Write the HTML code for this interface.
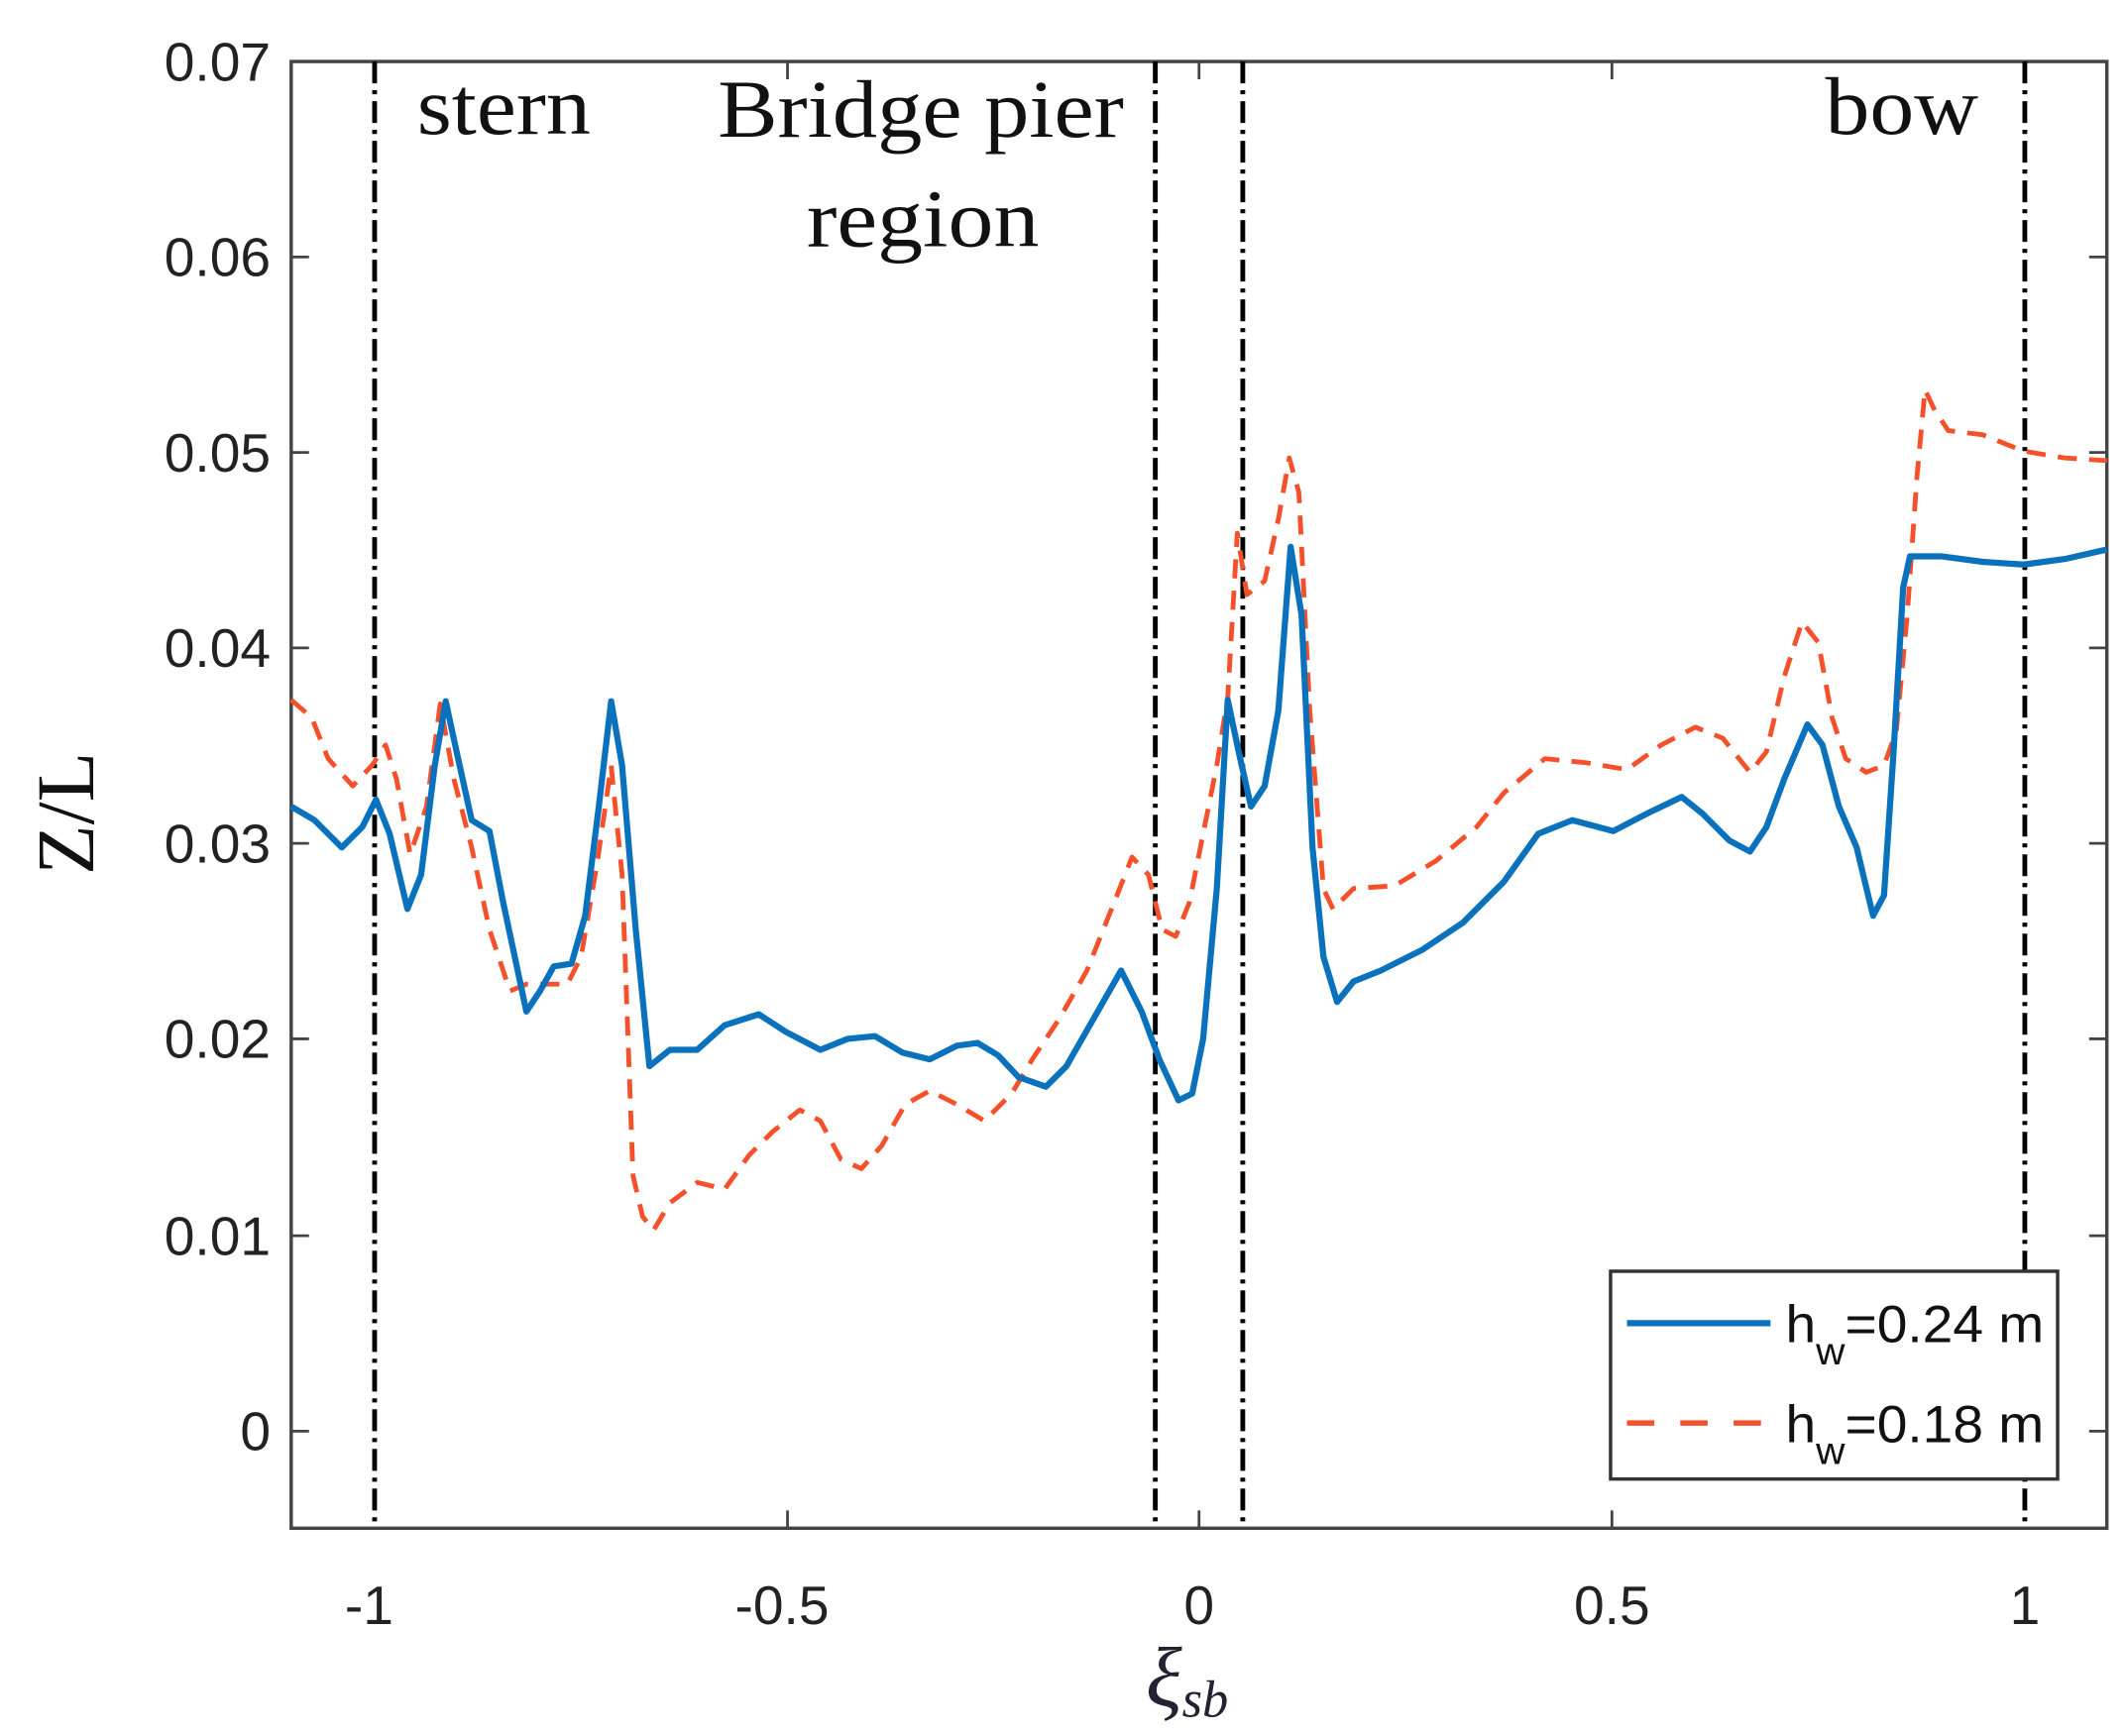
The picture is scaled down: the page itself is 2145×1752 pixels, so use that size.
<!DOCTYPE html>
<html><head><meta charset="utf-8"><style>
html,body{margin:0;padding:0;background:#fff;}
svg{display:block;}
</style></head><body>
<svg width="2145" height="1752" viewBox="0 0 1555 1270" preserveAspectRatio="none" xmlns="http://www.w3.org/2000/svg">
<rect x="0" y="0" width="1555" height="1270" fill="#fff"/>
<rect x="213" y="45" width="1328" height="1073" fill="none" stroke="#444" stroke-width="2.5"/>
<g stroke="#444" stroke-width="2">
<line x1="213" y1="188" x2="226" y2="188"/><line x1="1541" y1="188" x2="1528" y2="188"/>
<line x1="213" y1="331" x2="226" y2="331"/><line x1="1541" y1="331" x2="1528" y2="331"/>
<line x1="213" y1="474" x2="226" y2="474"/><line x1="1541" y1="474" x2="1528" y2="474"/>
<line x1="213" y1="617" x2="226" y2="617"/><line x1="1541" y1="617" x2="1528" y2="617"/>
<line x1="213" y1="760" x2="226" y2="760"/><line x1="1541" y1="760" x2="1528" y2="760"/>
<line x1="213" y1="904" x2="226" y2="904"/><line x1="1541" y1="904" x2="1528" y2="904"/>
<line x1="213" y1="1047" x2="226" y2="1047"/><line x1="1541" y1="1047" x2="1528" y2="1047"/>
<line x1="576" y1="1118" x2="576" y2="1105"/><line x1="576" y1="45" x2="576" y2="58"/>
<line x1="877" y1="1118" x2="877" y2="1105"/><line x1="877" y1="45" x2="877" y2="58"/>
<line x1="1179" y1="1118" x2="1179" y2="1105"/><line x1="1179" y1="45" x2="1179" y2="58"/>
</g>
<g font-family="Liberation Sans, sans-serif" font-size="40" fill="#222" text-anchor="end">
<text x="198" y="59">0.07</text><text x="198" y="202">0.06</text><text x="198" y="345">0.05</text>
<text x="198" y="488">0.04</text><text x="198" y="631">0.03</text><text x="198" y="774">0.02</text>
<text x="198" y="918">0.01</text><text x="198" y="1061">0</text>
</g>
<g font-family="Liberation Sans, sans-serif" font-size="40" fill="#222" text-anchor="middle">
<text x="270" y="1188">-1</text><text x="572" y="1188">-0.5</text><text x="877" y="1188">0</text>
<text x="1179" y="1188">0.5</text><text x="1481" y="1188">1</text>
</g>
<text transform="translate(68,595) rotate(-90)" font-family="Liberation Serif, serif" font-size="60" text-anchor="middle" fill="#111">Z/L</text>
<text x="838" y="1248" font-family="Liberation Serif, serif" font-style="italic" font-size="62" fill="#223">ξ<tspan font-size="38" dy="8">sb</tspan></text>
<g stroke="#000" stroke-width="3.5" stroke-dasharray="16,5,3,5">
<line x1="274" y1="45" x2="274" y2="1118"/>
<line x1="845" y1="45" x2="845" y2="1118"/>
<line x1="909" y1="45" x2="909" y2="1118"/>
<line x1="1481" y1="45" x2="1481" y2="1118"/>
</g>
<g font-family="Liberation Serif, serif" font-size="60" fill="#111">
<text x="305" y="98" textLength="127" lengthAdjust="spacingAndGlyphs">stern</text>
<text x="525" y="100" textLength="297" lengthAdjust="spacingAndGlyphs">Bridge pier</text>
<text x="590" y="180" textLength="170" lengthAdjust="spacingAndGlyphs">region</text>
<text x="1335" y="98" textLength="112" lengthAdjust="spacingAndGlyphs">bow</text>
</g>
<polyline fill="none" stroke="#F5502A" stroke-width="3.5" stroke-dasharray="14,9" stroke-linejoin="round" points="213,512 228,525 240,555 258,575 272,560 282,545 290,570 300,625 312,590 322,515 332,570 345,620 358,680 373,725 385,720 398,720 415,720 425,700 437,630 447,560 455,640 463,860 470,890 478,900 490,880 510,865 530,870 548,845 565,828 585,812 600,820 615,848 630,855 645,838 662,808 680,798 700,808 720,820 740,800 755,775 775,745 795,710 815,660 828,627 840,640 850,680 860,685 870,660 880,610 890,560 898,510 905,390 912,435 925,425 935,380 943,335 950,360 958,520 968,650 975,665 990,650 1020,648 1050,630 1080,605 1100,580 1130,555 1160,558 1190,563 1215,545 1240,532 1260,540 1280,565 1292,550 1305,495 1318,455 1330,470 1340,525 1350,555 1365,565 1378,560 1387,535 1395,450 1402,350 1408,285 1415,300 1425,315 1450,318 1480,330 1510,335 1541,337"/>
<polyline fill="none" stroke="#0A72BD" stroke-width="4.5" stroke-linejoin="round" points="213,590 230,600 250,620 265,605 275,585 285,610 298,665 308,640 318,560 326,513 334,550 345,600 358,608 368,660 385,740 395,725 405,707 418,705 428,670 438,590 447,513 455,560 465,680 475,780 490,768 510,768 530,750 555,742 575,755 600,768 620,760 640,758 660,770 680,775 700,765 715,763 730,772 745,788 765,795 780,780 800,745 820,710 835,740 848,775 862,805 872,800 880,760 890,650 898,512 906,550 915,590 925,575 935,520 944,400 952,450 960,620 968,700 978,733 990,718 1010,710 1040,695 1070,675 1100,645 1125,610 1150,600 1180,608 1205,595 1230,583 1245,595 1265,615 1280,623 1292,605 1305,570 1322,530 1333,545 1345,590 1358,620 1370,670 1378,655 1385,550 1392,430 1397,407 1420,407 1450,411 1480,413 1510,409 1541,402"/>
<rect x="1178" y="930" width="327" height="152" fill="#fff" stroke="#333" stroke-width="2.5"/>
<line x1="1190" y1="968" x2="1295" y2="968" stroke="#0A72BD" stroke-width="4.5"/>
<line x1="1190" y1="1041" x2="1295" y2="1041" stroke="#F5502A" stroke-width="4" stroke-dasharray="20,19"/>
<g font-family="Liberation Sans, sans-serif" font-size="38" fill="#111">
<text x="1306" y="982" textLength="189" lengthAdjust="spacingAndGlyphs">h<tspan font-size="28" dy="16">w</tspan><tspan dy="-16">=0.24 m</tspan></text>
<text x="1306" y="1055" textLength="189" lengthAdjust="spacingAndGlyphs">h<tspan font-size="28" dy="16">w</tspan><tspan dy="-16">=0.18 m</tspan></text>
</g>
</svg>
</body></html>
